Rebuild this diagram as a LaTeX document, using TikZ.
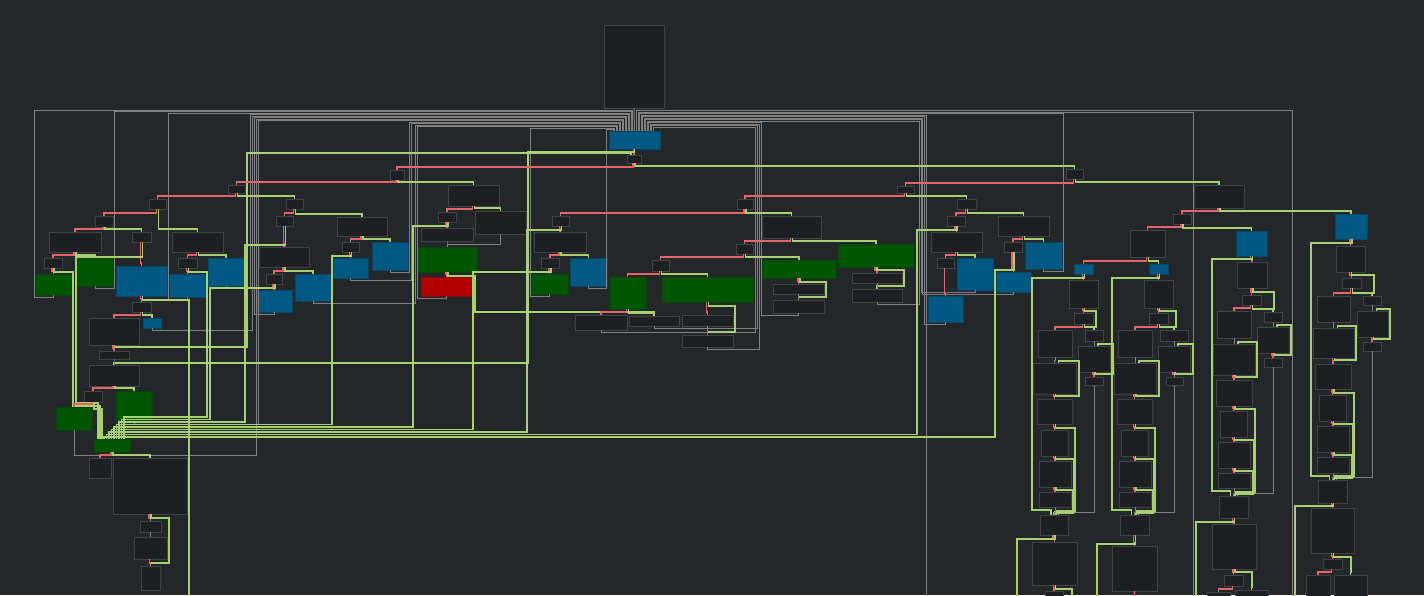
\documentclass[tikz,border=0pt]{standalone}
\definecolor{bgc}{RGB}{36,39,42}
\definecolor{ndf}{RGB}{29,31,35}
\definecolor{ndb}{RGB}{64,66,70}
\definecolor{blf}{RGB}{1,89,131}
\definecolor{bld}{RGB}{10,70,100}
\definecolor{gnf}{RGB}{0,86,0}
\definecolor{gnd}{RGB}{10,66,10}
\definecolor{rdf}{RGB}{178,0,0}
\definecolor{rdd}{RGB}{130,10,10}
\definecolor{cR}{RGB}{228,100,106}
\definecolor{cG}{RGB}{168,208,112}
\definecolor{cY}{RGB}{128,128,128}
\newcommand\BX[6][nd]{\node[#1,minimum width={(#4-#2)*1pt},minimum height={(#5-#3)*1pt}] (#6) at ({(#2+#4)/2},{(#3+#5)/2}) {};}
\newcommand\ER[2]{\draw[eR] ([xshift=-1pt]#1.south) |- ([yshift=3pt]#2.north) -- (#2.north);}
\newcommand\EG[2]{\draw[eG] ([xshift=1pt]#1.south) |- ([yshift=3pt]#2.north) -- (#2.north);}
\newcommand\EY[2]{\draw[eY] (#1.south) |- ([yshift=3pt]#2.north) -- (#2.north);}
\newcommand\BK[4]{\draw[eY] (#1.south) -- ++(0,2) -| (#2,#3) -| ([xshift=#4pt]n1.north);}
\newcommand\LP[2]{\draw[eG] ([xshift=1pt]#1.south) -- ++(0,2) -| ([xshift=#2pt,yshift=2pt]#1.north east) -| ([xshift=4pt]#1.north);}
\begin{document}
\begin{tikzpicture}[x=1pt,y=-1pt,
  nd/.style={draw=ndb,fill=ndf,line width=0.8pt,inner sep=0pt,outer sep=0pt},
  bl/.style={nd,draw=bld,fill=blf},
  gn/.style={nd,draw=gnd,fill=gnf},
  rd/.style={nd,draw=rdd,fill=rdf},
  eR/.style={draw=cR,line width=1.35pt},
  eG/.style={draw=cG,line width=1.35pt},
  eB/.style={draw=cG,line width=1.1pt},
  eY/.style={draw=cY,line width=1pt}]
\useasboundingbox (0,0) rectangle (1424,595);
\clip (0,0) rectangle (1424,595);
\fill[bgc] (0,0) rectangle (1424,595);
% ---------- nodes: top
\BX{604}{25}{664}{108}{n0}
\BX[bl]{609}{131}{660}{149}{n1}
\BX{627}{155}{641}{163}{n2}
% left
\BX{390}{170}{404}{180}{N3}
\BX{228}{185}{245}{193}{A}
\BX{149}{199}{166}{209}{B}
\BX{286}{199}{303}{209}{C}
\BX{95}{216}{113}{227}{D}
\BX{172}{232}{223}{252}{E}
\BX{49}{232}{101}{252}{F}
\BX{132}{232}{151}{242}{G}
\BX{44}{258}{62}{268}{H}
\BX[gn]{77}{258}{113}{286}{I}
\BX[gn]{35}{274}{72}{295}{J}
\BX[bl]{116}{266}{167}{296}{K}
\BX{178}{258}{197}{268}{E2}
\BX[bl]{208}{258}{244}{286}{E3}
\BX[bl]{169}{274}{206}{297}{E4}
\BX{132}{302}{151}{312}{L}
\BX{89}{318}{139}{345}{P}
\BX[bl]{143}{318}{161}{328}{Q}
\BX{99}{351}{129}{359}{R}
\BX{89}{365}{139}{386}{S}
\BX{84}{391}{102}{402}{T}
\BX[gn]{116}{391}{152}{422}{U}
\BX[gn]{56}{407}{92}{430}{V}
\BX[gn]{94}{439}{130}{452}{M}
\BX{89}{458}{111}{478}{W}
\BX{113}{458}{187}{514}{X}
\BX{140}{521}{161}{532}{Y}
\BX{134}{537}{167}{559}{Z}
\BX{141}{566}{160}{590}{AA}
\BX{276}{216}{293}{226}{C1}
\BX{337}{217}{387}{236}{C2}
\BX{259}{247}{309}{267}{C3}
\BX{266}{274}{282}{284}{C4}
\BX[bl]{295}{274}{331}{301}{C5}
\BX[bl]{256}{290}{292}{312}{C6}
\BX{342}{242}{359}{252}{C7}
\BX[bl]{372}{242}{408}{270}{C8}
\BX[bl]{333}{258}{368}{278}{C9}
\BX{448}{185}{499}{206}{G1}
\BX{438}{212}{456}{222}{G2}
\BX{475}{211}{526}{234}{G3}
\BX{421}{228}{473}{241}{G4}
\BX[gn]{417}{247}{477}{272}{G5}
\BX[rd]{421}{277}{472}{296}{G6}
% center
\BX{1066}{169}{1083}{179}{Rt}
\BX{897}{186}{914}{193}{Q0}
\BX{737}{199}{753}{209}{P0}
\BX{552}{216}{569}{226}{P1}
\BX{762}{216}{821}{238}{P2}
\BX{534}{232}{586}{252}{P3}
\BX{541}{258}{559}{268}{P4}
\BX[bl]{570}{258}{607}{286}{P5}
\BX[gn]{531}{274}{568}{294}{P6}
\BX{736}{244}{753}{254}{P7}
\BX[gn]{838}{244}{914}{267}{P8}
\BX{652}{260}{669}{271}{P9}
\BX[gn]{762}{260}{836}{278}{P10}
\BX[gn]{609}{277}{646}{309}{P11}
\BX[gn]{662}{277}{753}{302}{P12}
\BX{575}{315}{627}{330}{P13}
\BX{629}{316}{679}{326}{P14}
\BX{682}{315}{733}{326}{P15}
\BX{682}{335}{733}{347}{P16}
\BX{773}{284}{824}{294}{P17}
\BX{773}{300}{824}{313}{P18}
\BX{852}{273}{902}{283}{P19}
\BX{852}{289}{902}{302}{P20}
% right-middle
\BX{957}{199}{976}{209}{R0}
\BX{947}{216}{965}{226}{R1}
\BX{998}{216}{1049}{236}{R2}
\BX{931}{232}{982}{252}{R3}
\BX{937}{258}{954}{268}{R4}
\BX[bl]{957}{258}{993}{290}{R5}
\BX[bl]{928}{296}{963}{322}{R6}
\BX{1004}{242}{1022}{252}{R7}
\BX[bl]{1025}{242}{1062}{269}{R8}
\BX[bl]{996}{272}{1031}{292}{R9}
% right
\BX{1194}{185}{1244}{208}{S0}
\BX{1173}{214}{1191}{224}{S1}
\BX[bl]{1335}{214}{1367}{239}{S2}
\BX{1130}{230}{1165}{257}{S3}
\BX[bl]{1236}{231}{1267}{256}{S4}
\BX[bl]{1074}{264}{1093}{274}{S5}
\BX[bl]{1149}{264}{1168}{274}{S6}
\BX{1069}{280}{1098}{308}{S7}
\BX{1074}{313}{1093}{324}{S8}
\BX{1085}{330}{1103}{341}{S9}
\BX{1038}{330}{1072}{357}{S10}
\BX{1078}{346}{1110}{372}{S11}
\BX{1085}{377}{1103}{385}{S12}
\BX{1033}{363}{1076}{394}{S13}
\BX{1037}{399}{1072}{424}{S14}
\BX{1041}{430}{1068}{456}{S15}
\BX{1039}{461}{1071}{487}{S16}
\BX{1039}{492}{1071}{507}{S17}
\BX{1040}{515}{1068}{535}{S20}
\BX{1032}{542}{1077}{585}{S21}
\BX{1045}{591}{1063}{602}{S22}
\BX{1144}{280}{1173}{308}{S7b}
\BX{1149}{313}{1168}{324}{S8b}
\BX{1160}{330}{1188}{341}{S9b}
\BX{1118}{330}{1152}{357}{S10b}
\BX{1158}{346}{1190}{372}{S11b}
\BX{1166}{377}{1183}{385}{S12b}
\BX{1114}{363}{1156}{394}{S13b}
\BX{1117}{399}{1152}{424}{S14b}
\BX{1121}{430}{1148}{456}{S15b}
\BX{1119}{461}{1151}{487}{S16b}
\BX{1119}{492}{1151}{507}{S17b}
\BX{1120}{515}{1149}{535}{S20b}
\BX{1112}{546}{1157}{591}{S21b}
\BX{1237}{262}{1267}{288}{T1}
\BX{1242}{295}{1261}{305}{T2}
\BX{1264}{312}{1282}{322}{T3}
\BX{1217}{311}{1251}{338}{T4}
\BX{1257}{327}{1289}{353}{T5}
\BX{1264}{358}{1282}{367}{T6}
\BX{1213}{344}{1255}{375}{T7}
\BX{1216}{380}{1252}{406}{T8}
\BX{1220}{411}{1247}{437}{T9}
\BX{1218}{442}{1250}{468}{T10}
\BX{1218}{473}{1250}{488}{T11}
\BX{1219}{496}{1248}{518}{T12}
\BX{1212}{524}{1256}{569}{T13}
\BX{1224}{575}{1243}{586}{T14}
\BX{1235}{590}{1268}{602}{T15}
\BX{1207}{592}{1230}{602}{T16}
\BX{1336}{246}{1365}{272}{U1}
\BX{1342}{278}{1361}{288}{U2}
\BX{1363}{296}{1381}{305}{U3}
\BX{1317}{296}{1350}{322}{U4}
\BX{1357}{311}{1388}{337}{U5}
\BX{1363}{342}{1381}{351}{U6}
\BX{1313}{328}{1354}{358}{U7}
\BX{1315}{364}{1351}{389}{U8}
\BX{1319}{395}{1346}{421}{U9}
\BX{1317}{426}{1349}{452}{U10}
\BX{1317}{457}{1349}{473}{U11}
\BX{1318}{480}{1347}{503}{U12}
\BX{1311}{508}{1354}{553}{U13}
\BX{1323}{559}{1342}{569}{U14}
\BX{1334}{575}{1367}{602}{U15}
\BX{1306}{575}{1330}{602}{U16}
% free ends below the picture
\coordinate (oK) at (189,600);
\coordinate (o925) at (926,600);
\coordinate (o1193) at (1193,600);
\coordinate (o1290) at (1292,600);
\coordinate (oS20) at (1017,600);
\coordinate (oS21) at (1072,600);
\coordinate (oS20b) at (1097,600);
\coordinate (oS21b) at (1134,600);
\coordinate (oT12) at (1196,600);
\coordinate (oU12) at (1295,600);
% ---------- grey back edges into n1
\draw[eY] (n0.south) -- (n1.north);
\BK{J}{34}{110}{-2}
\BK{I}{114}{111.5}{-3.5}
\BK{E4}{168}{113}{-5}
\BK{E3}{250}{114.5}{-6.5}
\BK{Q}{252}{116}{-8}
\BK{C6}{254}{117.5}{-9.5}
\draw[eY] (V.south) |- (256,455) -- (256,119) -| ([xshift=-11pt]n1.north);
\BK{U}{258}{120.5}{-12.5}
\BK{C8}{409}{122}{-14}
\BK{C9}{411}{123.5}{-15.5}
\BK{C5}{415}{125}{-17}
\BK{G6}{417}{126.5}{-18.5}
\BK{P6}{530}{128}{-20}
\BK{P5}{606}{129.5}{-21.5}
\draw[eY] (o1290) -- (1292,110.5) -| ([xshift=2pt]n1.north);
\draw[eY] (o1193) -- (1193,112) -| ([xshift=3.5pt]n1.north);
\BK{R8}{1063}{113.5}{5}
\draw[eY] (o925) -- (926,115) -| ([xshift=6.5pt]n1.north);
\BK{R6}{924}{116.5}{8}
\BK{R9}{922}{118}{9.5}
\BK{R5}{921.5}{119.5}{11}
\BK{P20}{919}{121}{12.5}
\BK{P18}{761}{122.5}{14}
\BK{P16}{759}{124}{15.5}
\BK{P14}{757}{125.5}{17}
\BK{P13}{755}{127}{18.5}
% ---------- top
\ER{n1}{n2}
\draw[eG] (n1.south) |- (528,152) -- (528,363) -| (S.north);
\draw[eG] (P.south) |- (247,347) -- (247,153) -| ([xshift=-3pt]n2.north);
\ER{n2}{N3}
\EG{n2}{Rt}
% ---------- left subtree
\ER{N3}{A} \EG{N3}{G1}
\ER{A}{B} \EG{A}{C}
\ER{B}{D} \EG{B}{E}
\ER{D}{F} \EG{D}{G}
\ER{F}{H} \EG{F}{I}
\ER{H}{J}
\draw[eB] ([xshift=1pt]H.south) |- (73,272) -- (73,406) -| ([xshift=-12pt]M.north);
\ER{G}{K}
\draw[eB] ([xshift=1pt]G.south) |- (76,257) -- (76,403) -| ([xshift=-14pt]M.north);
\ER{K}{L}
\draw[eG] ([xshift=1pt]K.south) |- (189,300) -- (oK);
\ER{L}{P} \EG{L}{Q}
\ER{P}{R}
\EY{R}{S}
\ER{S}{T} \EG{S}{U}
\ER{T}{V}
\draw[eB] ([xshift=1pt]T.south) -- ++(0,7) -| ([xshift=-10pt]M.north);
\ER{M}{W} \EG{M}{X}
\ER{X}{Y}
\draw[eG] ([xshift=1pt]X.south) |- (169,518) -- (169,563) -| (AA.north);
\EY{Y}{Z}
\ER{Z}{AA}
\ER{E}{E2} \EG{E}{E3}
\ER{E2}{E4}
\draw[eB] ([xshift=1pt]E2.south) |- (207,272) -- (207,417) -| ([xshift=12pt]M.north);
\ER{C}{C1} \EG{C}{C2}
\ER{C1}{C3}
\draw[eB] ([xshift=1pt]C1.south) |- (245,245) -- (245,422) -| ([xshift=7pt]M.north);
\ER{C3}{C4} \EG{C3}{C5}
\ER{C4}{C6}
\draw[eB] ([xshift=1pt]C4.south) |- (210,288) -- (210,419.5) -| ([xshift=9.5pt]M.north);
\ER{C2}{C7} \EG{C2}{C8}
\ER{C7}{C9}
\draw[eB] ([xshift=1pt]C7.south) |- (332,256) -- (332,424.5) -| ([xshift=4.5pt]M.north);
\ER{G1}{G2} \EG{G1}{G3}
\ER{G2}{G4}
\draw[eB] ([xshift=1pt]G2.south) |- (413,226) -- (413,427) -| ([xshift=2pt]M.north);
\EY{G4}{G5}
\EY{G3}{G5}
\ER{G5}{G6}
\draw[eG] ([xshift=1pt]G5.south) |- (475,276) -- (475,312) -| (P14.north);
% ---------- center subtree
\ER{Rt}{Q0} \EG{Rt}{S0}
\ER{Q0}{P0} \EG{Q0}{R0}
\ER{P0}{P1} \EG{P0}{P2}
\ER{P1}{P3}
\draw[eB] ([xshift=1pt]P1.south) |- (527,230) -- (527,432) -| ([xshift=-3pt]M.north);
\ER{P3}{P4} \EG{P3}{P5}
\ER{P4}{P6}
\draw[eB] ([xshift=1pt]P4.south) |- (473,272) -- (473,429.5) -| ([xshift=-0.5pt]M.north);
\ER{P2}{P7} \EG{P2}{P8}
\ER{P7}{P9} \EG{P7}{P10}
\ER{P9}{P11} \EG{P9}{P12}
\ER{P11}{P13} \EG{P11}{P14}
\ER{P12}{P15}
\draw[eG] ([xshift=1pt]P12.south) |- (735,306) -- (735,332) -| (P16.north);
\EY{P15}{P16}
\ER{P10}{P17}
\draw[eG] ([xshift=1pt]P10.south) |- (826,282) -- (826,297) -| (P18.north);
\EY{P17}{P18}
\ER{P8}{P19}
\draw[eG] ([xshift=1pt]P8.south) |- (904,270) -- (904,286) -| (P20.north);
\EY{P19}{P20}
% ---------- right-middle subtree
\ER{R0}{R1} \EG{R0}{R2}
\ER{R1}{R3}
\draw[eB] ([xshift=1pt]R1.south) |- (917,230) -- (917,434.5) -| ([xshift=-5.5pt]M.north);
\ER{R3}{R4} \EG{R3}{R5}
\ER{R4}{R6}
\ER{R2}{R7} \EG{R2}{R8}
\ER{R7}{R9}
\draw[eB] ([xshift=1pt]R7.south) |- (995,270) -- (995,437) -| ([xshift=-8pt]M.north);
% ---------- right subtree
\ER{S0}{S1} \EG{S0}{S2}
\ER{S1}{S3} \EG{S1}{S4}
\ER{S3}{S5} \EG{S3}{S6}
% S5 branch
\ER{S5}{S7}
\draw[eG] ([xshift=1pt]S5.south) |- (1032,278) -- (1032,510) -| ([xshift=-3pt]S20.north);
\ER{S7}{S8}
\draw[eG] ([xshift=1pt]S7.south) |- (1096,311) -- (1096,327) -| (S9.north);
\ER{S8}{S10} \EG{S8}{S9}
\EY{S9}{S11}
\ER{S11}{S12}
\LP{S11}{3}
\draw[eY] (S12.south) -- (1094,512) -| ([xshift=4pt]S20.north);
\EY{S10}{S13}
\LP{S13}{3}
\ER{S13}{S14}
\ER{S14}{S15}
\draw[eG] ([xshift=1pt]S14.south) |- (1075,428) -- (1075,511) -| ([xshift=2pt]S20.north);
\ER{S15}{S16}
\draw[eG] ([xshift=1pt]S15.south) |- (1074,459) -- (1074,512) -| ([xshift=1pt]S20.north);
\ER{S16}{S17}
\draw[eG] ([xshift=1pt]S16.south) |- (1073,490) -- (1073,513) -| ([xshift=0pt]S20.north);
\EY{S17}{S20}
\ER{S20}{S21}
\draw[eG] ([xshift=1pt]S20.south) |- (1017,539) -- (oS20);
\ER{S21}{S22}
\draw[eG] ([xshift=1pt]S21.south) |- (1072,589) -- (oS21);
% S6 branch
\ER{S6}{S7b}
\draw[eG] ([xshift=1pt]S6.south) |- (1112,278) -- (1112,510) -| ([xshift=-3pt]S20b.north);
\ER{S7b}{S8b}
\draw[eG] ([xshift=1pt]S7b.south) |- (1176,311) -- (1176,327) -| (S9b.north);
\ER{S8b}{S10b} \EG{S8b}{S9b}
\EY{S9b}{S11b}
\ER{S11b}{S12b}
\LP{S11b}{3}
\draw[eY] (S12b.south) -- (1174.5,512) -| ([xshift=4pt]S20b.north);
\EY{S10b}{S13b}
\LP{S13b}{3}
\ER{S13b}{S14b}
\ER{S14b}{S15b}
\draw[eG] ([xshift=1pt]S14b.south) |- (1155,428) -- (1155,511) -| ([xshift=2pt]S20b.north);
\ER{S15b}{S16b}
\draw[eG] ([xshift=1pt]S15b.south) |- (1154,459) -- (1154,512) -| ([xshift=1pt]S20b.north);
\ER{S16b}{S17b}
\draw[eG] ([xshift=1pt]S16b.south) |- (1153,490) -- (1153,513) -| ([xshift=0pt]S20b.north);
\EY{S17b}{S20b}
\ER{S20b}{S21b}
\draw[eG] ([xshift=1pt]S20b.south) |- (1097,544) -- (oS20b);
\draw[eR] (S21b.south) -- (oS21b);
% S4 branch
\ER{S4}{T1}
\draw[eG] ([xshift=1pt]S4.south) |- (1212,259) -- (1212,491) -| ([xshift=-3pt]T12.north);
\ER{T1}{T2}
\draw[eG] ([xshift=1pt]T1.south) |- (1274,292) -- (1274,309) -| (T3.north);
\ER{T2}{T4} \EG{T2}{T3}
\EY{T3}{T5}
\LP{T5}{2}
\ER{T5}{T6}
\draw[eY] (T6.south) -- (1273,493) -| ([xshift=4pt]T12.north);
\EY{T4}{T7}
\LP{T7}{2}
\ER{T7}{T8}
\ER{T8}{T9}
\draw[eG] ([xshift=1pt]T8.south) |- (1255,409) -- (1255,492) -| ([xshift=2pt]T12.north);
\ER{T9}{T10}
\draw[eG] ([xshift=1pt]T9.south) |- (1254,440) -- (1254,493) -| ([xshift=1pt]T12.north);
\ER{T10}{T11}
\draw[eG] ([xshift=1pt]T10.south) |- (1253,471) -- (1253,494) -| ([xshift=0pt]T12.north);
\EY{T11}{T12}
\ER{T12}{T13}
\draw[eG] ([xshift=1pt]T12.south) |- (1196,522) -- (oT12);
\ER{T13}{T14}
\draw[eG] ([xshift=1pt]T13.south) |- (1252,572) -- (1252,587) -| (T15.north);
\ER{T14}{T16}
% S2 branch
\ER{S2}{U1}
\draw[eG] ([xshift=1pt]S2.south) |- (1311,243) -- (1311,476) -| ([xshift=-3pt]U12.north);
\ER{U1}{U2}
\draw[eG] ([xshift=1pt]U1.south) |- (1374,275) -- (1374,293) -| (U3.north);
\ER{U2}{U4} \EG{U2}{U3}
\EY{U3}{U5}
\LP{U5}{2}
\ER{U5}{U6}
\draw[eY] (U6.south) -- (1372,477) -| ([xshift=4pt]U12.north);
\EY{U4}{U7}
\LP{U7}{2}
\ER{U7}{U8}
\ER{U8}{U9}
\draw[eG] ([xshift=1pt]U8.south) |- (1354,393) -- (1354,476) -| ([xshift=2pt]U12.north);
\ER{U9}{U10}
\draw[eG] ([xshift=1pt]U9.south) |- (1353,424) -- (1353,477) -| ([xshift=1pt]U12.north);
\ER{U10}{U11}
\draw[eG] ([xshift=1pt]U10.south) |- (1352,455) -- (1352,478) -| ([xshift=0pt]U12.north);
\EY{U11}{U12}
\ER{U12}{U13}
\draw[eG] ([xshift=1pt]U12.south) |- (1295,506) -- (oU12);
\ER{U13}{U14}
\draw[eG] ([xshift=1pt]U13.south) |- (1351,557) -- (1351,572) -| (U15.north);
\ER{U14}{U16}
\end{tikzpicture}
\end{document}
